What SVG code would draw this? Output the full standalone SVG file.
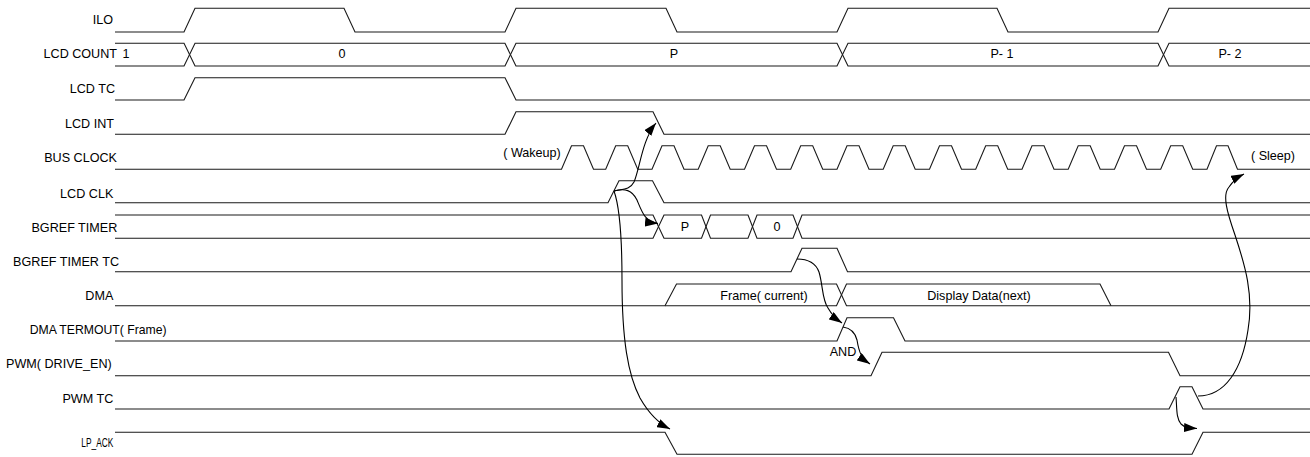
<svg xmlns="http://www.w3.org/2000/svg" width="1310" height="457" viewBox="0 0 1310 457">
<style>
.sig{fill:none;stroke:#1a1a1a;stroke-width:1.1;stroke-linejoin:miter}
.lbl{font-family:"Liberation Sans",Arial,sans-serif;font-size:12.6px;fill:#000;text-anchor:end}
.val{font-family:"Liberation Sans",Arial,sans-serif;font-size:12.6px;fill:#000;text-anchor:middle}
.con{fill:none;stroke:#000;stroke-width:1.1}
</style>
<defs>
<marker id="ah" markerUnits="userSpaceOnUse" markerWidth="14" markerHeight="9" refX="13" refY="4.5" orient="auto">
<path d="M0,0 L13,4.5 L0,9 z" fill="#000"/>
</marker>
</defs>
<rect width="1310" height="457" fill="#fff"/>

<g id="ilo">
<text class="lbl" x="113" y="24.3">ILO</text>
<path class="sig" d="M115,32 H184 L195,8.3 H344 L355,32 H505 L516,8.3 H666 L677,32 H837 L848,8.3 H997 L1008,32 H1158 L1169,8.3 H1310"/>
</g>

<g id="lcd-count">
<text class="lbl" x="117" y="58.3">LCD COUNT</text>
<path class="sig" d="M115,43.3 H184 L195,66 H505 L516,43.3 H837 L848,66 H1158 L1169,43.3 H1310"/>
<path class="sig" d="M115,66 H184 L195,43.3 H505 L516,66 H837 L848,43.3 H1158 L1169,66 H1310"/>
<text class="val" x="126" y="58.3">1</text>
<text class="val" x="342" y="58.3">0</text>
<text class="val" x="674" y="58.3">P</text>
<text class="val" x="1002" y="58.3">P- 1</text>
<text class="val" x="1230" y="58.3">P- 2</text>
</g>

<g id="lcd-tc">
<text class="lbl" x="115" y="93.3">LCD TC</text>
<path class="sig" d="M115,100 H184 L195,77.7 H505 L516,100 H1310"/>
</g>

<g id="lcd-int">
<text class="lbl" x="114" y="128.3">LCD INT</text>
<path class="sig" d="M115,134.3 H505 L516,111.7 H653 L664,134.3 H1310"/>
</g>

<g id="bus-clock">
<text class="lbl" x="117" y="162.3">BUS CLOCK</text>
<text class="val" x="532" y="157">( Wakeup)</text>
<text class="val" x="1273" y="159.5">( Sleep)</text>
<path class="sig" d="M115,169.3 H561.5 L571.5,145.7 H583.5 L593.5,169.3 H605.7 L615.7,145.7 H627.7 L637.7,169.3 H652 L662,145.7 H674 L684,169.3 H698.2 L708.2,145.7 H720.2 L730.2,169.3 H744.5 L754.5,145.7 H766.5 L776.5,169.3 H790.7 L800.7,145.7 H812.7 L822.7,169.3 H837 L847,145.7 H859 L869,169.3 H883.2 L893.2,145.7 H905.2 L915.2,169.3 H929.5 L939.5,145.7 H951.5 L961.5,169.3 H975.7 L985.7,145.7 H997.7 L1007.7,169.3 H1022 L1032,145.7 H1044 L1054,169.3 H1068.2 L1078.2,145.7 H1090.2 L1100.2,169.3 H1114.5 L1124.5,145.7 H1136.5 L1146.5,169.3 H1160.7 L1170.7,145.7 H1182.7 L1192.7,169.3 H1207 L1216.5,145.7 H1228 L1237.5,169.3 H1310"/>
</g>

<g id="lcd-clk">
<text class="lbl" x="113.3" y="197.7">LCD CLK</text>
<path class="sig" d="M115,202.7 H608 L619,180.7 H652.5 L664,202.7 H1310"/>
</g>

<g id="bgref-timer">
<text class="lbl" x="117.3" y="231.7">BGREF TIMER</text>
<path class="sig" d="M115,215 H653 L664,238.3 H701.5 L710.5,215 H748 L757,238.3 H793 L802,215 H1310"/>
<path class="sig" d="M115,238.3 H653 L664,215 H701.5 L710.5,238.3 H748 L757,215 H793 L802,238.3 H1310"/>
<text class="val" x="685" y="231">P</text>
<text class="val" x="777" y="231">0</text>
</g>

<g id="bgref-timer-tc">
<text class="lbl" x="119" y="265.7">BGREF TIMER TC</text>
<path class="sig" d="M115,271.7 H791 L802,248.3 H837 L847.5,271.7 H1310"/>
</g>

<g id="dma">
<text class="lbl" x="113.3" y="300">DMA</text>
<path class="sig" d="M115,305.7 H665 L676.5,284 H836.5 L846.5,305.7 H1310"/>
<path class="sig" d="M665,305.7 H836.5 L846.5,284 H1100 L1111,305.7"/>
<text class="val" x="764" y="299.5">Frame( current)</text>
<text class="val" x="979" y="299.5">Display Data(next)</text>
</g>

<g id="dma-termout">
<text class="lbl" x="166.7" y="334.3" textLength="137" lengthAdjust="spacingAndGlyphs">DMA TERMOUT( Frame)</text>
<path class="sig" d="M115,341 H837 L847,317.7 H893.5 L905,341 H1310"/>
</g>

<g id="pwm-drive-en">
<text class="lbl" x="111.7" y="368">PWM( DRIVE_EN)</text>
<path class="sig" d="M115,375.7 H871 L882,352.3 H1168.5 L1180,375.7 H1310"/>
<text class="val" x="843" y="356">AND</text>
</g>

<g id="pwm-tc">
<text class="lbl" x="113.3" y="403.3">PWM TC</text>
<path class="sig" d="M115,409 H1169 L1180,386.7 H1192 L1203,409 H1310"/>
</g>

<g id="lp-ack">
<text class="lbl" x="113.3" y="446.7" textLength="32" lengthAdjust="spacingAndGlyphs">LP_ACK</text>
<path class="sig" d="M115,432.3 H665 L677,454.3 H1192 L1203,432.3 H1310"/>
</g>

<g id="connectors">
<path class="con" marker-end="url(#ah)" d="M614,191 C622,189 630,190 634,182 C640,168 642,140 656,123"/>
<path class="con" marker-end="url(#ah)" d="M614,191 C625,188 632,190 637,200 C642,212 645,222 658,223.5"/>
<path class="con" marker-end="url(#ah)" d="M614,191 C619,205 622,230 622,280 C622,340 628,375 640,398 C648,412 658,423 670,429"/>
<path class="con" marker-end="url(#ah)" d="M797,259 C806,259 815,261 819,272 C823,285 822,300 828,308 C832,315 836,319 842,323"/>
<path class="con" marker-end="url(#ah)" d="M843,327 C850,328 855,332 857,340 C859,352 861,358 870,364"/>
<path class="con" marker-end="url(#ah)" d="M1176,397 C1177,408 1176,418 1181,424 C1185,428 1190,428 1197,428.5"/>
<path class="con" marker-end="url(#ah)" d="M1198,396 C1225,396 1242,370 1248,330 C1254,295 1245,265 1235,235 C1227,212 1222,195 1229,187 C1233,181 1238,177 1244,174"/>
</g>
</svg>
